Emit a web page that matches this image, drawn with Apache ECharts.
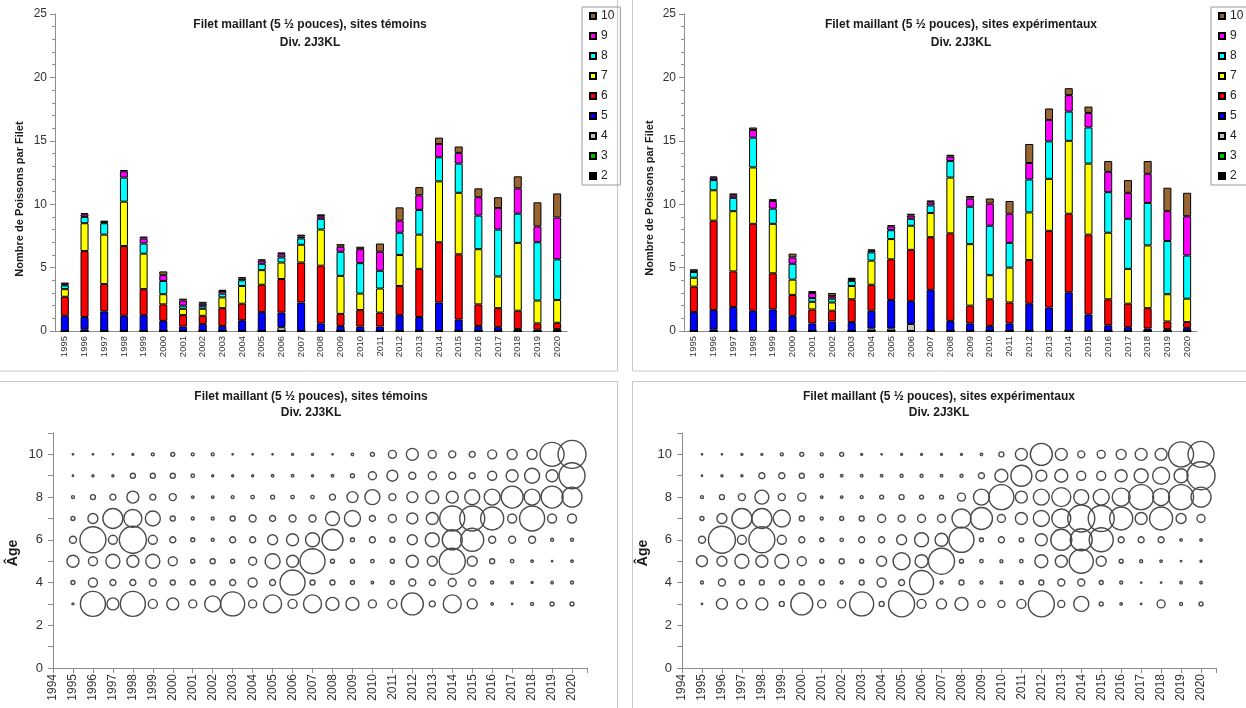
<!DOCTYPE html>
<html><head><meta charset="utf-8">
<script src="https://cdn.jsdelivr.net/npm/echarts@6/dist/echarts.min.js"></script>
<style>html,body{margin:0;padding:0;background:#fff}#c{width:1246px;height:708px}</style>
</head><body><div id="c"></div>
<script>
// ---------- categories ----------
const years = ['1995','1996','1997','1998','1999','2000','2001','2002','2003','2004','2005','2006','2007','2008','2009','2010','2011','2012','2013','2014','2015','2016','2017','2018','2019','2020'];
const yearNums = [1995,1996,1997,1998,1999,2000,2001,2002,2003,2004,2005,2006,2007,2008,2009,2010,2011,2012,2013,2014,2015,2016,2017,2018,2019,2020];
const ageNames = ['2','3','4','5','6','7','8','9','10'];
const legendOrder = ['10','9','8','7','6','5','4','3','2'];
const titleTemoins = 'Filet maillant (5 \u00bd pouces), sites t\u00e9moins\nDiv. 2J3KL';
const titleExper = 'Filet maillant (5 \u00bd pouces), sites exp\u00e9rimentaux\nDiv. 2J3KL';
const yTitleBars = 'Nombre de Poissons par Filet';
const yTitleBubbles = '\u00c2ge';

// ---------- bars: sites témoins (fish per net, by age) ----------
const tA2  = [0,0,0,0,0,0,0,0,0,0,0,0,0,0,0,0,0,0,0,0,0,0,0,0,0,0];
const tA3  = [0,0,0,0,0,0,0,0,0,0,0,0,0,0,0,0,0,0,0,0,0,0,0,0,0,0];
const tA4  = [0,0.1,0,0,0,0,0,0,0,0,0,0.3,0,0,0,0,0,0,0,0,0,0,0,0,0,0];
const tA5  = [1.2,1.0,1.55,1.2,1.25,0.8,0.35,0.55,0.4,0.85,1.5,1.15,2.25,0.6,0.4,0.35,0.35,1.25,1.1,2.25,0.9,0.4,0.3,0.15,0.1,0.15];
const tA6  = [1.5,5.2,2.15,5.5,2.05,1.3,0.9,0.65,1.4,1.3,2.15,2.65,3.15,4.55,0.95,1.3,1.1,2.3,3.8,4.75,5.15,1.7,1.5,1.45,0.5,0.5];
const tA7  = [0.6,2.2,3.9,3.5,2.8,0.8,0.5,0.55,0.85,1.4,1.15,1.3,1.4,2.85,3.0,1.3,1.9,2.45,2.7,4.8,4.85,4.35,2.5,5.35,1.8,1.8];
const tA8  = [0.3,0.5,0.9,1.9,0.8,1.05,0.25,0.2,0.3,0.45,0.5,0.4,0.5,0.85,1.9,2.4,1.4,1.75,1.95,1.9,2.3,2.65,3.7,2.3,4.6,3.2];
const tA9  = [0.08,0.2,0.1,0.5,0.4,0.45,0.4,0.2,0.2,0.15,0.25,0.25,0.15,0.2,0.4,1.1,1.5,0.95,1.15,1.05,0.85,1.45,1.7,2.0,1.25,3.3];
const tA10 = [0.14,0.1,0.1,0.1,0.15,0.3,0.15,0.15,0.1,0.1,0.1,0.15,0.15,0.15,0.2,0.2,0.65,1.05,0.65,0.5,0.5,0.7,0.85,0.95,1.9,1.9];

// ---------- bars: sites expérimentaux ----------
const eA2  = [0,0,0,0,0,0,0,0,0,0,0,0,0,0,0,0,0,0,0,0,0,0,0,0,0,0];
const eA3  = [0,0,0,0,0,0,0,0,0,0,0,0,0,0,0,0,0,0,0,0,0,0,0,0,0,0];
const eA4  = [0,0.1,0,0,0,0,0,0,0,0.2,0.2,0.55,0,0,0,0,0,0,0,0,0,0,0,0,0,0];
const eA5  = [1.5,1.55,1.9,1.6,1.7,1.2,0.6,0.75,0.7,1.4,2.25,1.8,3.25,0.8,0.6,0.4,0.6,2.15,1.85,3.05,1.3,0.45,0.3,0.2,0.15,0.25];
const eA6  = [2.0,7.05,2.8,6.85,2.85,1.65,1.1,0.85,1.8,2.05,3.2,4.05,4.15,6.9,1.4,2.1,1.65,3.45,6.05,6.2,6.3,2.05,1.85,1.6,0.6,0.45];
const eA7  = [0.7,2.4,4.75,4.45,3.9,1.2,0.6,0.65,1.05,1.9,1.6,1.9,1.9,4.4,4.85,1.9,2.75,3.75,4.1,5.75,5.6,5.25,2.75,4.95,2.15,1.85];
const eA8  = [0.45,0.8,1.05,2.35,1.2,1.25,0.3,0.3,0.4,0.65,0.7,0.55,0.6,1.3,2.95,3.9,1.95,2.6,2.95,2.3,2.85,3.2,3.95,3.35,4.2,3.4];
const eA9  = [0.05,0.2,0.2,0.6,0.6,0.5,0.4,0.2,0.15,0.15,0.3,0.25,0.25,0.35,0.65,1.75,2.3,1.3,1.7,1.3,1.15,1.6,2.05,2.3,2.35,3.1];
const eA10 = [0.17,0.08,0.15,0.2,0.15,0.3,0.15,0.25,0.1,0.08,0.1,0.15,0.15,0.15,0.2,0.4,1.0,1.5,0.9,0.55,0.5,0.85,1.0,1.0,1.85,1.85];

// ---------- bubbles: relative abundance index (area-proportional), témoins ----------
const bT3  = [0.04,6.25,1.44,6.25,0.81,1.44,0.64,2.56,5.76,0.64,3.24,0.81,3.24,1.69,1.69,0.64,0.81,4.84,0.36,3.24,1.00,0.06,0.02,0.09,0.16,0.16];
const bT4  = [0.16,0.81,0.36,0.36,0.49,0.25,0.25,0.25,0.36,0.81,0.36,6.25,0.25,0.25,0.16,0.06,0.16,0.49,0.36,0.64,0.49,0.09,0.06,0.04,0.06,0.09];
const bT5  = [1.44,0.81,1.96,1.44,1.96,0.81,0.16,0.25,0.16,0.64,2.25,1.44,6.25,0.16,0.16,0.12,0.16,1.44,1.00,6.76,1.00,0.25,0.12,0.06,0.02,0.06];
const bT6  = [0.49,6.76,0.81,7.29,0.81,0.36,0.16,0.09,0.36,0.36,1.00,1.44,1.96,4.41,0.16,0.36,0.25,1.00,1.96,4.00,5.29,0.49,0.49,0.49,0.09,0.09];
const bT7  = [0.16,1.00,4.00,3.24,2.25,0.25,0.09,0.09,0.25,0.49,0.36,0.49,0.49,1.96,2.56,0.36,0.64,1.21,1.44,6.25,6.25,5.29,0.81,6.25,0.81,0.81];
const bT8  = [0.09,0.25,0.36,1.44,0.36,0.49,0.06,0.06,0.09,0.12,0.16,0.12,0.12,0.36,1.21,2.25,0.49,1.21,1.69,1.44,2.25,2.56,4.84,2.56,4.84,4.00];
const bT9  = [0.02,0.04,0.04,0.25,0.25,0.25,0.12,0.04,0.04,0.04,0.06,0.06,0.04,0.06,0.16,0.64,1.21,0.49,0.64,0.49,0.36,0.81,1.44,2.25,1.44,6.76];
const bT10 = [0.02,0.02,0.02,0.04,0.09,0.16,0.09,0.09,0.02,0.02,0.02,0.04,0.04,0.02,0.06,0.16,0.64,1.44,0.64,0.49,0.36,0.81,1.00,1.00,5.76,7.84];

// ---------- bubbles: expérimentaux ----------
const bE3  = [0.02,1.21,1.00,1.44,0.25,4.84,0.64,0.64,5.76,0.25,6.76,0.81,1.00,1.69,0.49,0.49,0.81,6.76,0.49,2.25,0.16,0.06,0.02,0.64,0.09,0.16];
const bE4  = [0.09,0.49,0.25,0.25,0.25,0.25,0.25,0.09,0.25,0.81,0.36,5.76,0.09,0.25,0.09,0.06,0.16,0.25,0.49,0.49,0.16,0.09,0.02,0.02,0.06,0.06];
const bE5  = [1.21,1.00,1.96,1.44,1.96,0.81,0.16,0.25,0.16,1.00,2.89,1.69,6.76,0.16,0.12,0.09,0.12,1.69,1.44,5.76,1.00,0.16,0.09,0.06,0.02,0.04];
const bE6  = [0.49,7.29,0.81,6.76,0.81,0.36,0.16,0.12,0.36,0.36,1.00,1.96,1.69,6.25,0.16,0.36,0.20,1.44,4.41,4.84,5.76,0.36,0.36,0.36,0.06,0.06];
const bE7  = [0.16,1.00,4.00,4.00,2.89,0.25,0.09,0.16,0.25,0.64,0.49,0.64,0.64,3.61,4.84,0.64,1.44,2.56,3.61,7.29,6.76,5.29,1.44,5.29,1.00,0.64];
const bE8  = [0.09,0.25,0.49,1.96,0.49,0.64,0.06,0.06,0.09,0.16,0.25,0.16,0.16,0.64,2.56,6.25,1.44,2.56,3.61,2.25,2.56,3.24,6.25,2.89,6.25,4.00];
const bE9  = [0.02,0.04,0.04,0.36,0.36,0.25,0.12,0.06,0.06,0.06,0.09,0.09,0.06,0.09,0.36,1.69,4.41,1.21,1.69,0.81,0.81,1.44,1.96,2.89,1.96,7.84];
const bE10 = [0.02,0.02,0.04,0.04,0.09,0.16,0.09,0.16,0.04,0.02,0.04,0.04,0.04,0.04,0.06,0.25,1.44,4.84,1.44,0.49,0.64,1.00,1.44,1.44,6.25,6.76];

// ---------- styling ----------
const ageColors = ['#000000','#00c000','#c0c0c0','#0000ff','#ff0000','#ffff00','#00ffff','#ff00ff','#996633'];
const FONT = '"Liberation Sans", Arial, sans-serif';
const AXIS_GREY = '#8c8c8c';
const LABEL = '#333';
const BUBBLE_SCALE = 10;

const tBars = [tA2,tA3,tA4,tA5,tA6,tA7,tA8,tA9,tA10];
const eBars = [eA2,eA3,eA4,eA5,eA6,eA7,eA8,eA9,eA10];
const tBub = [bT3,bT4,bT5,bT6,bT7,bT8,bT9,bT10];
const eBub = [bE3,bE4,bE5,bE6,bE7,bE8,bE9,bE10];
const bubAges = [3,4,5,6,7,8,9,10];

function barSeries(stack, idx, arrays) {
  return ageNames.map((a, k) => ({
    type: 'bar', name: a, stack: stack, xAxisIndex: idx, yAxisIndex: idx,
    barWidth: 8, data: arrays[k],
    itemStyle: { color: ageColors[k], borderColor: '#000', borderWidth: 1 },
    emphasis: { disabled: true }
  }));
}
function bubbleSeries(prefix, idx, rows) {
  return bubAges.map((age, k) => ({
    type: 'scatter', name: prefix + age, xAxisIndex: idx, yAxisIndex: idx,
    data: yearNums.map((y, i) => [y, age, rows[k][i]]),
    symbol: 'circle',
    symbolSize: v => BUBBLE_SCALE * Math.sqrt(v[2]),
    itemStyle: { color: 'rgba(255,255,255,0)', borderColor: '#4a4a4a', borderWidth: 1.4, opacity: 1 },
    emphasis: { disabled: true }
  }));
}
function catAxis(idx) {
  return {
    type: 'category', gridIndex: idx, data: years,
    axisLine: { lineStyle: { color: AXIS_GREY } },
    axisTick: { length: 4, lineStyle: { color: AXIS_GREY } },
    axisLabel: { rotate: 90, interval: 0, fontSize: 9.5, color: LABEL, margin: 5, fontFamily: FONT }
  };
}
function barYAxis(idx) {
  return {
    type: 'value', gridIndex: idx, min: 0, max: 25, interval: 5,
    axisLine: { show: true, lineStyle: { color: AXIS_GREY } },
    axisTick: { show: true, length: 5, lineStyle: { color: AXIS_GREY } },
    minorTick: { show: true, splitNumber: 5, length: 3, lineStyle: { color: AXIS_GREY } },
    splitLine: { show: false },
    axisLabel: { fontSize: 12, color: LABEL, margin: 8, fontFamily: FONT }
  };
}
function yearAxis(idx) {
  return {
    type: 'value', gridIndex: idx, min: 1994, max: 2020.75, interval: 1,
    axisLine: { show: true, lineStyle: { color: AXIS_GREY } },
    axisTick: { show: true, length: 5, lineStyle: { color: AXIS_GREY } },
    splitLine: { show: false },
    axisLabel: { rotate: 90, fontSize: 12, color: LABEL, margin: 6, fontFamily: FONT,
      formatter: v => (Number.isInteger(v) ? String(v) : '') }
  };
}
function ageAxis(idx) {
  return {
    type: 'value', gridIndex: idx, min: 0, max: 11, interval: 1,
    axisLine: { show: true, lineStyle: { color: AXIS_GREY } },
    axisTick: { show: true, length: 5, lineStyle: { color: AXIS_GREY } },
    splitLine: { show: false },
    axisLabel: { fontSize: 13, color: LABEL, margin: 10, fontFamily: FONT,
      formatter: v => (v % 2 === 0 ? String(v) : '') }
  };
}
function legendAt(left) {
  return {
    orient: 'vertical', left: left, top: 7, data: legendOrder,
    icon: 'rect', itemWidth: 6, itemHeight: 6, itemGap: 8,
    padding: [3, 6, 3, 7], borderColor: '#9a9a9a', borderWidth: 1,
    textStyle: { fontSize: 12, color: '#222', fontFamily: FONT },
    selectedMode: false
  };
}
function titleAt(text, cx, top, lh) {
  return { text: text, left: cx, top: top, textAlign: 'center', padding: 0,
    textStyle: { fontSize: 12, fontWeight: 'bold', color: '#1a1a1a', lineHeight: lh, fontFamily: FONT } };
}
function vText(text, x, y, size) {
  return { type: 'text', x: x, y: y, rotation: Math.PI / 2, silent: true,
    style: { text: text, font: 'bold ' + size + 'px ' + FONT, fill: '#1a1a1a', align: 'center', verticalAlign: 'middle' } };
}
function frame(x, y, w, h) {
  return { type: 'rect', silent: true, shape: { x: x, y: y, width: w, height: h },
    style: { fill: 'none', stroke: '#c8c8c8', lineWidth: 1 } };
}

const chart = echarts.init(document.getElementById('c'), null, { renderer: 'canvas' });
chart.setOption({
  animation: false,
  backgroundColor: '#fff',
  textStyle: { fontFamily: FONT },
  title: [
    titleAt(titleTemoins, 310, 16, 18),
    titleAt(titleExper, 961, 16, 18),
    titleAt(titleTemoins, 311, 389, 16),
    titleAt(titleExper, 939, 389, 16)
  ],
  legend: [legendAt(582), legendAt(1211)],
  grid: [
    { left: 55, top: 14, width: 512, height: 317, outerBoundsMode: 'none' },
    { left: 684, top: 14, width: 513, height: 317, outerBoundsMode: 'none' },
    { left: 53, top: 433, width: 534, height: 235, outerBoundsMode: 'none' },
    { left: 682, top: 433, width: 534, height: 235, outerBoundsMode: 'none' }
  ],
  xAxis: [catAxis(0), catAxis(1), yearAxis(2), yearAxis(3)],
  yAxis: [barYAxis(0), barYAxis(1), ageAxis(2), ageAxis(3)],
  graphic: [
    frame(-1.5, -1.5, 619, 372.5),
    frame(632.5, -1.5, 620, 372.5),
    frame(-1.5, 381.5, 619, 330),
    frame(632.5, 381.5, 620, 330),
    vText(yTitleBars, 20, 199, 11),
    vText(yTitleBars, 650, 198, 11),
    vText(yTitleBubbles, 13, 553, 14),
    vText(yTitleBubbles, 643, 553, 14)
  ],
  series: [].concat(
    barSeries('T', 0, tBars),
    barSeries('E', 1, eBars),
    bubbleSeries('T-', 2, tBub),
    bubbleSeries('E-', 3, eBub)
  )
});
</script></body></html>
